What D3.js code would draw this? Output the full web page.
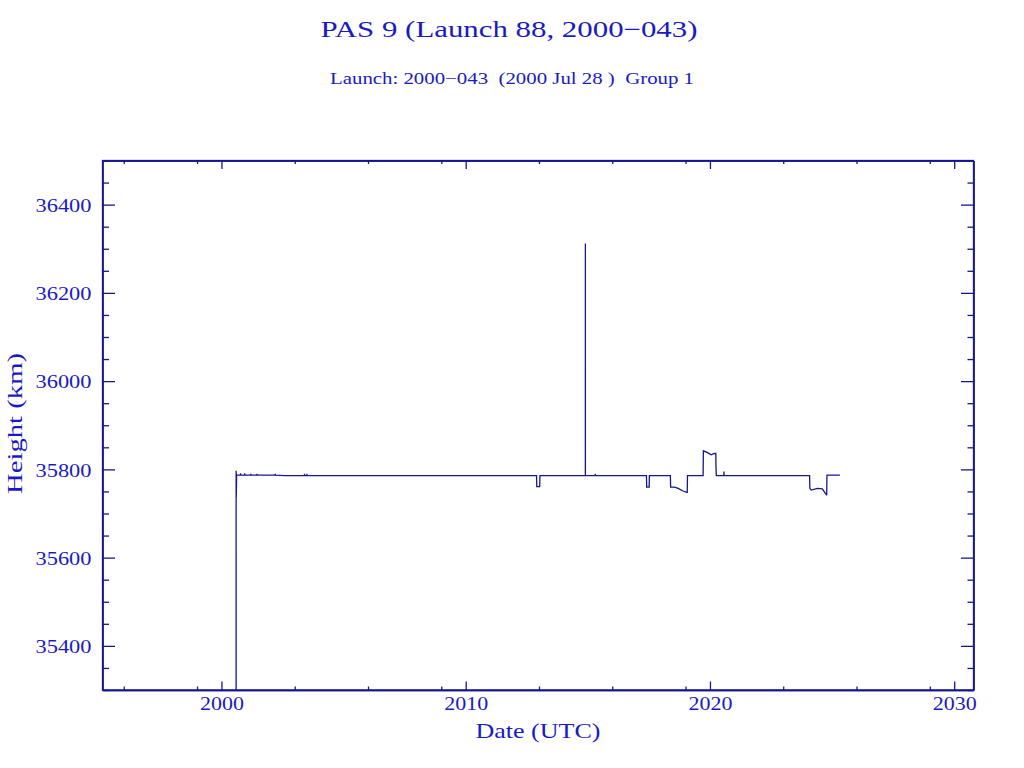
<!DOCTYPE html>
<html>
<head>
<meta charset="utf-8">
<script src="https://cdn.jsdelivr.net/npm/d3@7"></script>
<style>
  html, body { margin: 0; padding: 0; background: #ffffff; }
  svg { display: block; }
</style>
</head>
<body>
<svg id="chart" width="1024" height="768"></svg>
<script>
// ---- Data ----
const titleText = "PAS 9 (Launch 88, 2000\u2212043)";
const subtitleText = "Launch: 2000\u2212043  (2000 Jul 28 )  Group 1";
const xTitle = "Date (UTC)";
const yTitle = "Height (km)";

const xDomain = [1995.13, 2030.79];
const yDomain = [35300, 36500];
const xMajorTicks = [2000, 2010, 2020, 2030];
const xMinorTicks = [1996, 1999, 2003, 2006, 2009, 2013, 2016, 2019, 2023, 2026, 2029];
const yMajorTicks = [35400, 35600, 35800, 36000, 36200, 36400];
const yMinorTicks = [35300, 35350, 35450, 35500, 35550, 35650, 35700, 35750, 35850, 35900, 35950,
                     36050, 36100, 36150, 36250, 36300, 36350, 36450, 36500];

// date (decimal year) and height (km)
const dates = [2000.600, 2000.601, 2000.603, 2000.605, 2000.607, 2000.609, 2000.611, 2000.613, 2000.616, 2000.620,
  2000.70, 2000.78, 2000.781, 2000.79, 2000.95, 2000.951, 2000.96, 2001.20, 2001.201, 2001.21,
  2001.45, 2001.451, 2001.46, 2002.20, 2002.201, 2002.21, 2002.60, 2003.40, 2003.401, 2003.41,
  2003.50, 2003.501, 2003.51, 2005.0, 2007.0, 2009.0, 2011.0, 2012.0, 2012.90, 2012.91,
  2013.03, 2013.04, 2013.5, 2014.0, 2014.899, 2014.900, 2014.901, 2015.3, 2015.301, 2015.31,
  2016.0, 2017.0, 2017.40, 2017.41, 2017.51, 2017.52, 2018.38, 2018.39, 2018.55, 2018.70,
  2018.90, 2019.05, 2019.07, 2019.08, 2019.72, 2019.73, 2019.90, 2020.05, 2020.18, 2020.24,
  2020.245, 2020.26, 2020.27, 2020.57, 2020.571, 2020.58, 2022.0, 2024.08, 2024.09, 2024.15,
  2024.40, 2024.60, 2024.77, 2024.78, 2024.79, 2025.32];
const heights = [35100, 35797, 35740, 35792, 35737, 35790, 35745, 35788, 35760, 35787,
  35787, 35787, 35791, 35787, 35787, 35791, 35787, 35787, 35790, 35787,
  35787, 35790, 35787, 35787, 35790, 35787, 35786, 35786, 35790, 35786,
  35786, 35790, 35786, 35786, 35786, 35786, 35786, 35786, 35786, 35761,
  35761, 35786, 35786, 35786, 35786, 36312, 35786, 35786, 35790, 35786,
  35786, 35786, 35786, 35760, 35760, 35786, 35786, 35760, 35760, 35757,
  35751, 35748, 35748, 35786, 35786, 35842, 35838, 35833, 35836, 35836,
  35810, 35786, 35786, 35786, 35795, 35786, 35786, 35786, 35757, 35753,
  35757, 35756, 35742, 35742, 35787, 35787];

// ---- Layout ----
const L = 102.5, R = 973.5, T = 160.5, B = 690;
const textColor = "#1a1ac4";
const lineColor = "#16168e";
const font = "'Liberation Serif', 'DejaVu Serif', serif";

const svg = d3.select("#chart");
const x = d3.scaleLinear().domain(xDomain).range([L, R]);
const y = d3.scaleLinear().domain(yDomain).range([B, T]);

// Titles
svg.append("text").attr("x", 509).attr("y", 37).attr("text-anchor", "middle")
  .attr("font-family", font).attr("font-size", 23).attr("fill", textColor)
  .attr("textLength", 377).attr("lengthAdjust", "spacingAndGlyphs").text(titleText);
svg.append("text").attr("x", 512).attr("y", 84).attr("text-anchor", "middle")
  .attr("font-family", font).attr("font-size", 16).attr("fill", textColor)
  .attr("textLength", 364).attr("lengthAdjust", "spacingAndGlyphs")
  .attr("xml:space", "preserve").style("white-space", "pre").text(subtitleText);

// Axes (ticks pointing inward on all four sides)
function styleAxis(g) {
  g.selectAll("path").attr("stroke", lineColor).attr("stroke-width", 1.3);
  g.selectAll("line").attr("stroke", lineColor).attr("stroke-width", 1.3);
  g.selectAll("text").attr("fill", textColor).attr("font-family", font).attr("font-size", 19.5);
}
const fmt = d3.format("d");

// bottom
svg.append("g").attr("transform", `translate(0,${B})`)
  .call(d3.axisBottom(x).tickValues(xMinorTicks).tickSize(-3.5).tickFormat("").tickSizeOuter(0))
  .call(styleAxis);
const xb = svg.append("g").attr("transform", `translate(0,${B})`)
  .call(d3.axisBottom(x).tickValues(xMajorTicks).tickSize(-8.5).tickPadding(20).tickFormat(fmt).tickSizeOuter(0))
  .call(styleAxis);
xb.selectAll("text").attr("dy", 0).attr("y", 20).attr("textLength", 44).attr("lengthAdjust", "spacingAndGlyphs");
// top
svg.append("g").attr("transform", `translate(0,${T})`)
  .call(d3.axisTop(x).tickValues(xMinorTicks).tickSize(-3.5).tickFormat("").tickSizeOuter(0))
  .call(styleAxis);
svg.append("g").attr("transform", `translate(0,${T})`)
  .call(d3.axisTop(x).tickValues(xMajorTicks).tickSize(-8.5).tickFormat("").tickSizeOuter(0))
  .call(styleAxis);
// left
svg.append("g").attr("transform", `translate(${L},0)`)
  .call(d3.axisLeft(y).tickValues(yMinorTicks).tickSize(-6.5).tickFormat("").tickSizeOuter(0))
  .call(styleAxis);
const yl = svg.append("g").attr("transform", `translate(${L},0)`)
  .call(d3.axisLeft(y).tickValues(yMajorTicks).tickSize(-12.5).tickPadding(11).tickFormat(fmt).tickSizeOuter(0))
  .call(styleAxis);
yl.selectAll("text").attr("x", -11).attr("dy", "0.34em").attr("textLength", 56).attr("lengthAdjust", "spacingAndGlyphs");
// right
svg.append("g").attr("transform", `translate(${R},0)`)
  .call(d3.axisRight(y).tickValues(yMinorTicks).tickSize(-6).tickFormat("").tickSizeOuter(0))
  .call(styleAxis);
svg.append("g").attr("transform", `translate(${R},0)`)
  .call(d3.axisRight(y).tickValues(yMajorTicks).tickSize(-12.5).tickFormat("").tickSizeOuter(0))
  .call(styleAxis);

// Frame
svg.append("rect").attr("x", L).attr("y", T).attr("width", R - L).attr("height", B - T)
  .attr("fill", "none").attr("stroke", lineColor).attr("stroke-width", 1.3);

// Axis titles
svg.append("text").attr("x", (L + R) / 2).attr("y", 738).attr("text-anchor", "middle")
  .attr("font-family", font).attr("font-size", 21).attr("fill", textColor)
  .attr("textLength", 125).attr("lengthAdjust", "spacingAndGlyphs").text(xTitle);
svg.append("text").attr("transform", "translate(22,423.5) rotate(-90)").attr("text-anchor", "middle")
  .attr("font-family", font).attr("font-size", 21).attr("fill", textColor)
  .attr("textLength", 141).attr("lengthAdjust", "spacingAndGlyphs").text(yTitle);

// Data line
svg.append("clipPath").attr("id", "plotclip").append("rect")
  .attr("x", L).attr("y", T).attr("width", R - L).attr("height", B - T);
const pts = dates.map((d, i) => [d, heights[i]]);
const line = d3.line().x(d => x(d[0])).y(d => y(d[1]));
svg.append("path").attr("clip-path", "url(#plotclip)")
  .attr("d", line(pts)).attr("fill", "none")
  .attr("stroke", lineColor).attr("stroke-width", 1.3).attr("stroke-linejoin", "miter");
</script>
</body>
</html>
